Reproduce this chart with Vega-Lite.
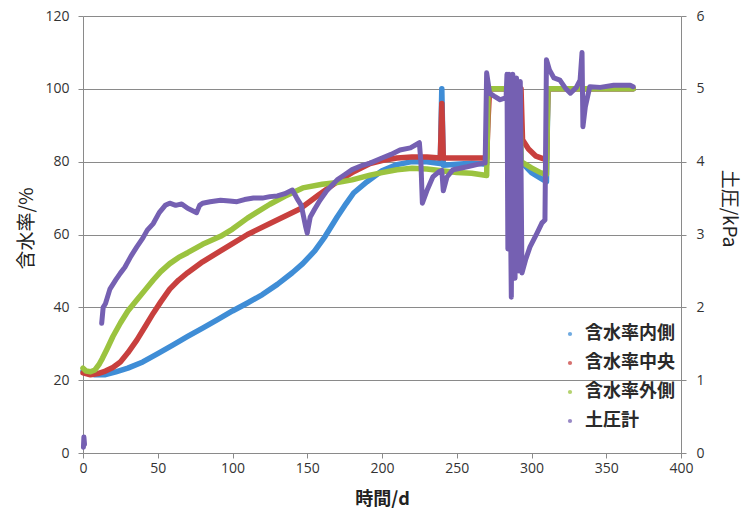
{
  "$schema": "https://vega.github.io/schema/vega-lite/v6.json",
  "width": 598,
  "height": 437,
  "autosize": {"type": "none"},
  "padding": {"left": 83, "top": 16, "right": 63, "bottom": 71},
  "background": "white",
  "config": {
    "view": {"stroke": null},
    "axis": {
      "labelFont": "Open Sans",
      "labelFontSize": 14,
      "labelColor": "#333333",
      "titleFont": "Noto Sans CJK JP",
      "titleColor": "#222222",
      "domainColor": "#8a8a8a",
      "tickColor": "#8a8a8a",
      "gridColor": "#8a8a8a",
      "tickSize": 5
    },
    "legend": {
      "labelFont": "Noto Sans CJK JP",
      "labelFontSize": 18,
      "labelFontWeight": "bold",
      "labelColor": "#2a2a2a"
    }
  },
  "datasets": {
    "m": [
      {"s":"含水率内側","d":0,"v":22.5},{"s":"含水率内側","d":3,"v":22},{"s":"含水率内側","d":8,"v":21.5},{"s":"含水率内側","d":15,"v":21.5},{"s":"含水率内側","d":22,"v":22.3},{"s":"含水率内側","d":30,"v":23.3},{"s":"含水率内側","d":40,"v":25},{"s":"含水率内側","d":50,"v":27.3},{"s":"含水率内側","d":60,"v":29.6},{"s":"含水率内側","d":70,"v":32},{"s":"含水率内側","d":80,"v":34.3},{"s":"含水率内側","d":90,"v":36.6},{"s":"含水率内側","d":100,"v":39},{"s":"含水率内側","d":110,"v":41.2},{"s":"含水率内側","d":120,"v":43.5},{"s":"含水率内側","d":130,"v":46.3},{"s":"含水率内側","d":140,"v":49.5},{"s":"含水率内側","d":147,"v":52},{"s":"含水率内側","d":155,"v":55.5},{"s":"含水率内側","d":162,"v":59.5},{"s":"含水率内側","d":170,"v":64.8},{"s":"含水率内側","d":176,"v":68.5},{"s":"含水率内側","d":181,"v":71.4},{"s":"含水率内側","d":190,"v":74.5},{"s":"含水率内側","d":200,"v":77.5},{"s":"含水率内側","d":210,"v":79.2},{"s":"含水率内側","d":220,"v":80},{"s":"含水率内側","d":230,"v":80},{"s":"含水率内側","d":239,"v":79.5},{"s":"含水率内側","d":240,"v":100},{"s":"含水率内側","d":241,"v":79},{"s":"含水率内側","d":250,"v":79.3},{"s":"含水率内側","d":260,"v":79.6},{"s":"含水率内側","d":270,"v":79.3},{"s":"含水率内側","d":271,"v":100},{"s":"含水率内側","d":292,"v":100},{"s":"含水率内側","d":293,"v":80},{"s":"含水率内側","d":300,"v":77},{"s":"含水率内側","d":306,"v":75.5},{"s":"含水率内側","d":310,"v":74.5},{"s":"含水率内側","d":311,"v":100},{"s":"含水率内側","d":368,"v":100},
      {"s":"含水率中央","d":0,"v":22},{"s":"含水率中央","d":5,"v":21.5},{"s":"含水率中央","d":10,"v":21.8},{"s":"含水率中央","d":15,"v":22.5},{"s":"含水率中央","d":20,"v":23.5},{"s":"含水率中央","d":25,"v":25},{"s":"含水率中央","d":30,"v":27.5},{"s":"含水率中央","d":36,"v":31},{"s":"含水率中央","d":42,"v":35},{"s":"含水率中央","d":47,"v":38.4},{"s":"含水率中央","d":52,"v":41.5},{"s":"含水率中央","d":58,"v":45},{"s":"含水率中央","d":64,"v":47.5},{"s":"含水率中央","d":70,"v":49.5},{"s":"含水率中央","d":80,"v":52.5},{"s":"含水率中央","d":92,"v":55.5},{"s":"含水率中央","d":100,"v":57.5},{"s":"含水率中央","d":110,"v":60},{"s":"含水率中央","d":125,"v":63},{"s":"含水率中央","d":135,"v":65},{"s":"含水率中央","d":145,"v":67},{"s":"含水率中央","d":158,"v":71},{"s":"含水率中央","d":170,"v":74.5},{"s":"含水率中央","d":180,"v":77},{"s":"含水率中央","d":192,"v":79.5},{"s":"含水率中央","d":200,"v":80.3},{"s":"含水率中央","d":210,"v":81},{"s":"含水率中央","d":220,"v":81.3},{"s":"含水率中央","d":230,"v":81.3},{"s":"含水率中央","d":239,"v":81},{"s":"含水率中央","d":240,"v":96},{"s":"含水率中央","d":241,"v":81},{"s":"含水率中央","d":250,"v":81},{"s":"含水率中央","d":260,"v":81},{"s":"含水率中央","d":270,"v":81},{"s":"含水率中央","d":271,"v":92},{"s":"含水率中央","d":272,"v":100},{"s":"含水率中央","d":293,"v":100},{"s":"含水率中央","d":294,"v":86},{"s":"含水率中央","d":298,"v":83.5},{"s":"含水率中央","d":303,"v":81.5},{"s":"含水率中央","d":310,"v":80.5},{"s":"含水率中央","d":311,"v":100},{"s":"含水率中央","d":368,"v":100},
      {"s":"含水率外側","d":0,"v":23.3},{"s":"含水率外側","d":2,"v":22.5},{"s":"含水率外側","d":5,"v":22.3},{"s":"含水率外側","d":8,"v":22.8},{"s":"含水率外側","d":11,"v":24.5},{"s":"含水率外側","d":13,"v":26},{"s":"含水率外側","d":16,"v":28.5},{"s":"含水率外側","d":20,"v":32},{"s":"含水率外側","d":25,"v":35.7},{"s":"含水率外側","d":30,"v":39},{"s":"含水率外側","d":36,"v":42},{"s":"含水率外側","d":42,"v":45},{"s":"含水率外側","d":47,"v":47.5},{"s":"含水率外側","d":52,"v":49.8},{"s":"含水率外側","d":58,"v":52},{"s":"含水率外側","d":64,"v":53.7},{"s":"含水率外側","d":70,"v":55},{"s":"含水率外側","d":80,"v":57.3},{"s":"含水率外側","d":92,"v":59.5},{"s":"含水率外側","d":100,"v":61.5},{"s":"含水率外側","d":110,"v":64.5},{"s":"含水率外側","d":125,"v":68.3},{"s":"含水率外側","d":135,"v":70.5},{"s":"含水率外側","d":147,"v":72.8},{"s":"含水率外側","d":160,"v":73.8},{"s":"含水率外側","d":170,"v":74.3},{"s":"含水率外側","d":180,"v":75},{"s":"含水率外側","d":192,"v":76.3},{"s":"含水率外側","d":200,"v":77},{"s":"含水率外側","d":210,"v":77.8},{"s":"含水率外側","d":220,"v":78.2},{"s":"含水率外側","d":230,"v":78},{"s":"含水率外側","d":240,"v":77.5},{"s":"含水率外側","d":250,"v":77},{"s":"含水率外側","d":260,"v":76.8},{"s":"含水率外側","d":270,"v":76.2},{"s":"含水率外側","d":271,"v":100},{"s":"含水率外側","d":292,"v":100},{"s":"含水率外側","d":293,"v":80},{"s":"含水率外側","d":300,"v":78.3},{"s":"含水率外側","d":306,"v":77},{"s":"含水率外側","d":310,"v":76.5},{"s":"含水率外側","d":311,"v":100},{"s":"含水率外側","d":368,"v":100}
    ],
    "p": [
      {"s":"土圧計","g":"a","d":0.3,"k":0.08},{"s":"土圧計","g":"a","d":0.6,"k":0.22},{"s":"土圧計","g":"a","d":1.0,"k":0.12},
      {"s":"土圧計","g":"b","d":12.5,"k":1.78},{"s":"土圧計","g":"b","d":13.5,"k":2.0},{"s":"土圧計","g":"b","d":15,"k":2.05},{"s":"土圧計","g":"b","d":18,"k":2.25},{"s":"土圧計","g":"b","d":22,"k":2.38},{"s":"土圧計","g":"b","d":25,"k":2.47},{"s":"土圧計","g":"b","d":28,"k":2.55},{"s":"土圧計","g":"b","d":32,"k":2.7},{"s":"土圧計","g":"b","d":36,"k":2.83},{"s":"土圧計","g":"b","d":40,"k":2.95},{"s":"土圧計","g":"b","d":43,"k":3.06},{"s":"土圧計","g":"b","d":47,"k":3.15},{"s":"土圧計","g":"b","d":51,"k":3.3},{"s":"土圧計","g":"b","d":55,"k":3.4},{"s":"土圧計","g":"b","d":58,"k":3.43},{"s":"土圧計","g":"b","d":62,"k":3.4},{"s":"土圧計","g":"b","d":66,"k":3.42},{"s":"土圧計","g":"b","d":70,"k":3.36},{"s":"土圧計","g":"b","d":73,"k":3.33},{"s":"土圧計","g":"b","d":76,"k":3.3},{"s":"土圧計","g":"b","d":78,"k":3.4},{"s":"土圧計","g":"b","d":80,"k":3.43},{"s":"土圧計","g":"b","d":85,"k":3.45},{"s":"土圧計","g":"b","d":92,"k":3.47},{"s":"土圧計","g":"b","d":98,"k":3.46},{"s":"土圧計","g":"b","d":103,"k":3.45},{"s":"土圧計","g":"b","d":108,"k":3.48},{"s":"土圧計","g":"b","d":114,"k":3.5},{"s":"土圧計","g":"b","d":120,"k":3.5},{"s":"土圧計","g":"b","d":125,"k":3.52},{"s":"土圧計","g":"b","d":130,"k":3.53},{"s":"土圧計","g":"b","d":135,"k":3.56},{"s":"土圧計","g":"b","d":140,"k":3.61},{"s":"土圧計","g":"b","d":143,"k":3.5},{"s":"土圧計","g":"b","d":146,"k":3.4},{"s":"土圧計","g":"b","d":149,"k":3.1},{"s":"土圧計","g":"b","d":150,"k":3.02},{"s":"土圧計","g":"b","d":152,"k":3.24},{"s":"土圧計","g":"b","d":155,"k":3.35},{"s":"土圧計","g":"b","d":158.5,"k":3.47},{"s":"土圧計","g":"b","d":163,"k":3.6},{"s":"土圧計","g":"b","d":170,"k":3.75},{"s":"土圧計","g":"b","d":175,"k":3.82},{"s":"土圧計","g":"b","d":180,"k":3.89},{"s":"土圧計","g":"b","d":187,"k":3.95},{"s":"土圧計","g":"b","d":192,"k":3.98},{"s":"土圧計","g":"b","d":200,"k":4.05},{"s":"土圧計","g":"b","d":206,"k":4.1},{"s":"土圧計","g":"b","d":212,"k":4.16},{"s":"土圧計","g":"b","d":219,"k":4.19},{"s":"土圧計","g":"b","d":225,"k":4.26},{"s":"土圧計","g":"b","d":226,"k":4.0},{"s":"土圧計","g":"b","d":227,"k":3.43},{"s":"土圧計","g":"b","d":230,"k":3.6},{"s":"土圧計","g":"b","d":234,"k":3.79},{"s":"土圧計","g":"b","d":238,"k":3.86},{"s":"土圧計","g":"b","d":240,"k":3.88},{"s":"土圧計","g":"b","d":241,"k":3.6},{"s":"土圧計","g":"b","d":243.5,"k":3.79},{"s":"土圧計","g":"b","d":247.5,"k":3.89},{"s":"土圧計","g":"b","d":257,"k":3.93},{"s":"土圧計","g":"b","d":267.5,"k":3.98},{"s":"土圧計","g":"b","d":269,"k":3.98},{"s":"土圧計","g":"b","d":270,"k":5.22},{"s":"土圧計","g":"b","d":272,"k":4.94},{"s":"土圧計","g":"b","d":275,"k":4.9},{"s":"土圧計","g":"b","d":279,"k":4.85},{"s":"土圧計","g":"b","d":283,"k":4.88},{"s":"土圧計","g":"b","d":283.6,"k":5.2},{"s":"土圧計","g":"b","d":284.2,"k":2.8},{"s":"土圧計","g":"b","d":285,"k":5.2},{"s":"土圧計","g":"b","d":286.5,"k":2.14},{"s":"土圧計","g":"b","d":287.5,"k":5.2},{"s":"土圧計","g":"b","d":289,"k":2.4},{"s":"土圧計","g":"b","d":290,"k":5.15},{"s":"土圧計","g":"b","d":291.5,"k":2.5},{"s":"土圧計","g":"b","d":292.5,"k":5.1},{"s":"土圧計","g":"b","d":293.6,"k":2.47},{"s":"土圧計","g":"b","d":296,"k":2.65},{"s":"土圧計","g":"b","d":299,"k":2.83},{"s":"土圧計","g":"b","d":303.7,"k":3.02},{"s":"土圧計","g":"b","d":307,"k":3.16},{"s":"土圧計","g":"b","d":309,"k":3.2},{"s":"土圧計","g":"b","d":310,"k":5.4},{"s":"土圧計","g":"b","d":312,"k":5.26},{"s":"土圧計","g":"b","d":315,"k":5.15},{"s":"土圧計","g":"b","d":319,"k":5.12},{"s":"土圧計","g":"b","d":323,"k":5.0},{"s":"土圧計","g":"b","d":326,"k":4.94},{"s":"土圧計","g":"b","d":330,"k":5.02},{"s":"土圧計","g":"b","d":332.5,"k":5.12},{"s":"土圧計","g":"b","d":333.8,"k":5.5},{"s":"土圧計","g":"b","d":334.4,"k":4.48},{"s":"土圧計","g":"b","d":336,"k":4.75},{"s":"土圧計","g":"b","d":339,"k":5.03},{"s":"土圧計","g":"b","d":346,"k":5.02},{"s":"土圧計","g":"b","d":355,"k":5.05},{"s":"土圧計","g":"b","d":366,"k":5.05},{"s":"土圧計","g":"b","d":368,"k":5.03}
    ]
  },
  "layer": [
    {
      "data": {"name": "m"},
      "encoding": {
        "x": {"field": "d", "type": "quantitative", "scale": {"domain": [0, 400], "nice": false},
              "axis": {"title": "時間/d", "values": [0,50,100,150,200,250,300,350,400], "grid": false, "labelPadding": 3, "titleFontSize": 18, "titleFontWeight": "bold", "titlePadding": 15, "labelFlush": false}},
        "y": {"field": "v", "type": "quantitative", "scale": {"domain": [0, 120], "nice": false},
              "axis": {"title": "含水率/%", "values": [0,20,40,60,80,100,120], "grid": true, "labelPadding": 9, "titleFontSize": 19, "titleFontWeight": "normal", "titlePadding": 8, "titleY": 212}},
        "color": {"field": "s", "type": "nominal",
                  "scale": {"domain": ["含水率内側","含水率中央","含水率外側","土圧計"], "range": ["#3f8dd6","#c8403e","#9bc33f","#7560b2"]},
                  "legend": {"title": null, "orient": "none", "legendX": 478, "legendY": 309, "symbolType": "circle", "symbolSize": 18, "labelOffset": 6, "rowPadding": 11,
                             "encode": {"symbols": {"update": {"fill": {"scale": "color", "field": "value"}, "strokeWidth": {"value": 0}, "opacity": {"value": 0.75}}}}}}
      },
      "layer": [
        {"transform": [{"filter": "datum.s == '含水率内側'"}], "mark": {"type": "line", "strokeWidth": 5.5, "strokeJoin": "round", "strokeCap": "round"}},
        {"transform": [{"filter": "datum.s == '含水率中央'"}], "mark": {"type": "line", "strokeWidth": 5.5, "strokeJoin": "round", "strokeCap": "round"}},
        {"transform": [{"filter": "datum.s == '含水率外側'"}], "mark": {"type": "line", "strokeWidth": 5.5, "strokeJoin": "round", "strokeCap": "round"}}
      ]
    },
    {
      "data": {"name": "p"},
      "mark": {"type": "line", "strokeWidth": 5, "strokeJoin": "round", "strokeCap": "round"},
      "encoding": {
        "x": {"field": "d", "type": "quantitative", "scale": {"domain": [0, 400], "nice": false}},
        "y": {"field": "k", "type": "quantitative", "scale": {"domain": [0, 6], "nice": false},
              "axis": {"orient": "right", "title": "土圧/kPa", "values": [0,1,2,3,4,5,6], "grid": false, "labelPadding": 10, "titleFontSize": 19, "titleFontWeight": "normal", "titlePadding": 14, "titleY": 192}},
        "color": {"field": "s", "type": "nominal"},
        "detail": {"field": "g", "type": "nominal"}
      }
    }
  ],
  "resolve": {"scale": {"y": "independent"}}
}
